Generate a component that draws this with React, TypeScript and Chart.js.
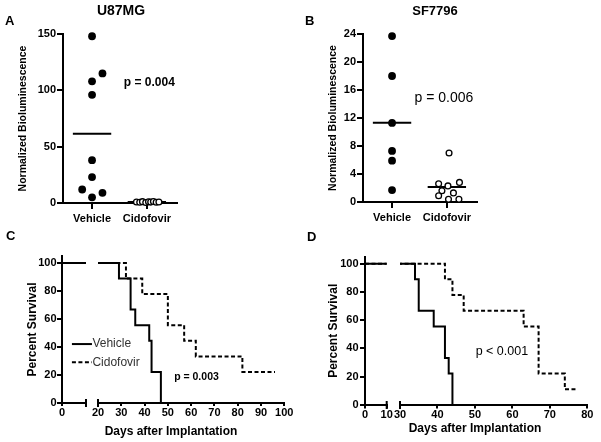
import React, { useEffect, useRef } from "react";
import { Chart, registerables } from "chart.js";
Chart.register(...registerables);

const FONT = "'Liberation Sans', Arial, Helvetica, sans-serif";

// ---------- Panel A (U87MG) ----------
const categories = ["Vehicle", "Cidofovir"];
const categoryPositions = [1, 2];
const u87VehicleValues = [148, 115, 108, 96, 38, 23, 12, 9, 5];
const u87VehicleJitter = [0, 0.19, 0, 0, 0, 0, -0.18, 0.19, 0];
const u87CidoValues = [0.9, 0.6, 1.2, 0.5, 1.0, 0.8, 1.3, 0.7, 0.9];
const u87CidoJitter = [-0.19, -0.13, -0.08, -0.02, 0.03, 0.07, 0.12, 0.17, 0.22];
const u87YTicks = [0, 50, 100, 150];

// ---------- Panel B (SF7796) ----------
const sfVehicleValues = [23.7, 18.0, 11.3, 7.3, 5.9, 1.7];
const sfVehicleJitter = [0, 0, 0, 0, 0, 0];
const sfCidoValues = [7.0, 2.6, 2.3, 2.8, 1.6, 1.3, 0.9, 0.4, 0.4];
const sfCidoJitter = [0.04, -0.15, 0.02, 0.23, -0.09, 0.12, -0.15, 0.03, 0.22];
const sfYTicks = [0, 4, 8, 12, 16, 20, 24];

// ---------- Panel C (survival) ----------
const cVehicleDays = [0, 29, 34, 36, 42, 43, 47];
const cVehicleSurvival = [100, 88.9, 66.7, 55.6, 44.4, 22.2, 0];
const cCidoDays = [0, 32, 39, 50, 57, 62, 82, 96];
const cCidoSurvival = [100, 88.9, 77.8, 55.6, 44.4, 33.3, 22.2, 22.2];
const cLeftXTicks = [0];
const cRightXTicks = [20, 30, 40, 50, 60, 70, 80, 90, 100];

// ---------- Panel D (survival) ----------
const dVehicleDays = [0, 34, 35, 39, 42, 43, 44];
const dVehicleSurvival = [100, 88.9, 66.7, 55.6, 33.3, 22.2, 0];
const dCidoDays = [0, 42, 44, 47, 63, 67, 74, 77];
const dCidoSurvival = [100, 88.9, 77.8, 66.7, 55.6, 22.2, 11.1, 11.1];
const dLeftXTicks = [0, 10];
const dRightXTicks = [30, 40, 50, 60, 70, 80];

const survivalYTicks = [0, 20, 40, 60, 80, 100];
const seriesNames = ["Vehicle", "Cidofovir"];

// ---------- helpers ----------
const mean = (a: number[]) => a.reduce((s, v) => s + v, 0) / a.length;
const jittered = (vals: number[], jit: number[], center: number) =>
  vals.map((v, i) => ({ x: center + jit[i], y: v }));
const xy = (xs: number[], ys: number[]) => xs.map((x, i) => ({ x, y: ys[i] }));
const fixedTicks = (values: number[]) => (scale: any) => {
  scale.ticks = values.map((v) => ({ value: v }));
};

const annotPlugin = {
  id: "annot",
  afterDraw(chart: any, _args: any, opts: any) {
    const items = opts && opts.items;
    if (!items) return;
    const { ctx, scales } = chart;
    const xs = scales.x;
    const ys = scales.y;
    ctx.save();
    for (const it of items) {
      if (it.type === "text") {
        ctx.font = it.font;
        ctx.fillStyle = it.color || "#000";
        ctx.textAlign = it.align || "left";
        ctx.textBaseline = "middle";
        ctx.fillText(it.text, xs.getPixelForValue(it.x), ys.getPixelForValue(it.y));
      } else if (it.type === "line") {
        ctx.beginPath();
        ctx.setLineDash(it.dash || []);
        ctx.lineWidth = it.width || 2;
        ctx.strokeStyle = "#000";
        const y = ys.getPixelForValue(it.y);
        ctx.moveTo(xs.getPixelForValue(it.x1), y);
        ctx.lineTo(xs.getPixelForValue(it.x2), y);
        ctx.stroke();
      }
    }
    ctx.restore();
  },
};

const breakPlugin = {
  id: "axisBreak",
  afterDraw(chart: any, _args: any, opts: any) {
    if (!opts || (!opts.left && !opts.right)) return;
    const { ctx, chartArea } = chart;
    const half = 4;
    ctx.save();
    ctx.strokeStyle = "#000";
    ctx.lineWidth = 2;
    const xs: number[] = [];
    if (opts.left) xs.push(chartArea.left);
    if (opts.right) xs.push(chartArea.right);
    for (const x of xs) {
      ctx.beginPath();
      ctx.moveTo(x, chartArea.bottom - half);
      ctx.lineTo(x, chartArea.bottom + half);
      ctx.stroke();
    }
    ctx.restore();
  },
};

const tickFont = { family: FONT, size: 11, weight: "bold" as const };

function yAxis(p: {
  min: number; max: number; ticks: number[]; width: number; title: string;
  titleSize: number; titlePad: number; tl: number; pad: number;
}) {
  return {
    type: "linear",
    min: p.min,
    max: p.max,
    afterBuildTicks: fixedTicks(p.ticks),
    afterFit: (s: any) => { s.width = p.width; },
    grid: { drawOnChartArea: false, drawTicks: true, tickLength: p.tl, color: "#000", lineWidth: 2 },
    border: { display: true, color: "#000", width: 2 },
    ticks: { font: tickFont, color: "#000", padding: p.pad, autoSkip: false },
    title: {
      display: true, text: p.title, color: "#000",
      font: { family: FONT, size: p.titleSize, weight: "bold" },
      padding: { top: p.titlePad, bottom: 0 },
    },
  };
}

function xAxis(p: {
  min: number; max: number; ticks: number[]; height: number; tl: number; pad: number;
  labels?: (v: number) => string;
}) {
  return {
    type: "linear",
    min: p.min,
    max: p.max,
    afterBuildTicks: fixedTicks(p.ticks),
    afterFit: (s: any) => { s.height = p.height; },
    grid: { drawOnChartArea: false, drawTicks: true, tickLength: p.tl, color: "#000", lineWidth: 2 },
    border: { display: true, color: "#000", width: 2 },
    ticks: {
      font: tickFont, color: "#000", padding: p.pad, autoSkip: false, maxRotation: 0,
      callback: p.labels ? (v: any) => p.labels!(Number(v)) : (v: any) => String(v),
    },
  };
}

function scatterConfig(p: any) {
  const vm = mean(p.vehicle);
  const cm = mean(p.cido);
  return {
    type: "scatter",
    data: {
      datasets: [
        {
          label: categories[0],
          data: jittered(p.vehicle, p.vehicleJit, categoryPositions[0]),
          pointRadius: 3.9, backgroundColor: "#000", borderColor: "#000", pointBorderWidth: 0, clip: false,
        },
        {
          label: categories[1],
          data: jittered(p.cido, p.cidoJit, categoryPositions[1]),
          pointRadius: 2.9, backgroundColor: "#fff", borderColor: "#000", pointBorderWidth: 1.3, clip: false,
        },
        {
          label: "mean " + categories[0],
          data: [{ x: categoryPositions[0] - 0.35, y: vm }, { x: categoryPositions[0] + 0.35, y: vm }],
          showLine: true, borderColor: "#000", borderWidth: 2, pointRadius: 0, clip: false,
        },
        {
          label: "mean " + categories[1],
          data: [{ x: categoryPositions[1] - 0.35, y: cm }, { x: categoryPositions[1] + 0.35, y: cm }],
          showLine: true, borderColor: "#000", borderWidth: 2, pointRadius: 0, clip: false,
        },
      ],
    },
    options: {
      animation: false, responsive: false, devicePixelRatio: 1,
      layout: { padding: p.padding },
      plugins: {
        legend: { display: false }, tooltip: { enabled: false }, title: { display: false },
        annot: { items: p.annot },
      },
      scales: {
        x: xAxis({
          min: 0.47, max: 2.55, ticks: categoryPositions, height: p.xHeight, tl: 6, pad: 3,
          labels: (v) => categories[categoryPositions.indexOf(v)] || "",
        }),
        y: yAxis({
          min: 0, max: p.yMax, ticks: p.yTicks, width: 63, title: "Normalized Bioluminescence",
          titleSize: 10.5, titlePad: p.titlePad, tl: 6, pad: 1,
        }),
      },
    },
    plugins: [annotPlugin, breakPlugin],
  };
}

function survivalConfig(p: any) {
  return {
    type: "line",
    data: {
      datasets: [
        {
          label: seriesNames[0], data: xy(p.vDays, p.vSurv), stepped: "before",
          borderColor: "#000", borderWidth: 2, pointRadius: 0, fill: false,
        },
        {
          label: seriesNames[1], data: xy(p.cDays, p.cSurv), stepped: "before",
          borderColor: "#000", borderWidth: 2, borderDash: [4, 2.5], pointRadius: 0, fill: false,
        },
      ],
    },
    options: {
      animation: false, responsive: false, devicePixelRatio: 1,
      layout: { padding: p.padding },
      plugins: {
        legend: { display: false }, tooltip: { enabled: false },
        annot: { items: p.annot || [] },
        axisBreak: p.breaks,
      },
      scales: {
        x: xAxis({ min: p.xMin, max: p.xMax, ticks: p.xTicks, height: p.xHeight, tl: p.xtl, pad: 0 }),
        y: p.showY
          ? yAxis({
              min: 0, max: 105, ticks: survivalYTicks, width: p.yWidth, title: "Percent Survival",
              titleSize: 12, titlePad: p.titlePad, tl: 5, pad: p.ypad,
            })
          : { type: "linear", min: 0, max: 105, display: false },
      },
    },
    plugins: [annotPlugin, breakPlugin],
  };
}

type Spec = { left: number; top: number; width: number; height: number; build: () => any };

const specs: Spec[] = [
  {
    left: 0, top: 0, width: 300, height: 226,
    build: () => scatterConfig({
      vehicle: u87VehicleValues, vehicleJit: u87VehicleJitter, cido: u87CidoValues, cidoJit: u87CidoJitter,
      yTicks: u87YTicks, yMax: 150, titlePad: 17, xHeight: 23,
      padding: { left: 0, top: 34, right: 123, bottom: 0 },
      annot: [{ type: "text", x: 1.58, y: 106.5, text: "p = 0.004", font: `bold 12px ${FONT}` }],
    }),
  },
  {
    left: 300, top: 0, width: 301, height: 226,
    build: () => scatterConfig({
      vehicle: sfVehicleValues, vehicleJit: sfVehicleJitter, cido: sfCidoValues, cidoJit: sfCidoJitter,
      yTicks: sfYTicks, yMax: 24, titlePad: 27, xHeight: 24,
      padding: { left: 0, top: 34, right: 124, bottom: 0 },
      annot: [{ type: "text", x: 1.41, y: 14.8, text: "p = 0.006", font: `14px ${FONT}` }],
    }),
  },
  {
    left: 0, top: 222, width: 110, height: 220,
    build: () => survivalConfig({
      vDays: cVehicleDays, vSurv: cVehicleSurvival, cDays: cCidoDays, cSurv: cCidoSurvival,
      xMin: 0, xMax: 10, xTicks: cLeftXTicks, xHeight: 39, xtl: 3,
      showY: true, yWidth: 62, titlePad: 25.8, ypad: 0.5,
      padding: { left: 0, top: 34, right: 24, bottom: 0 },
      breaks: { right: true },
    }),
  },
  {
    left: 0, top: 222, width: 300, height: 220,
    build: () => survivalConfig({
      vDays: cVehicleDays, vSurv: cVehicleSurvival, cDays: cCidoDays, cSurv: cCidoSurvival,
      xMin: 20, xMax: 100, xTicks: cRightXTicks, xHeight: 39, xtl: 3,
      showY: false,
      padding: { left: 98, top: 34, right: 15.7, bottom: 0 },
      breaks: { left: true },
      annot: [
        { type: "text", x: 52.7, y: 18.8, text: "p = 0.003", font: `bold 10.5px ${FONT}` },
        { type: "line", x1: 8.8, x2: 17.4, y: 42.1, width: 2 },
        { type: "text", x: 17.6, y: 42.1, text: seriesNames[0], font: `12px ${FONT}`, color: "#333" },
        { type: "line", x1: 8.8, x2: 17.4, y: 29.1, width: 2, dash: [4, 2.5] },
        { type: "text", x: 17.6, y: 29.1, text: seriesNames[1], font: `12px ${FONT}`, color: "#333" },
      ],
    }),
  },
  {
    left: 300, top: 222, width: 110, height: 220,
    build: () => survivalConfig({
      vDays: dVehicleDays, vSurv: dVehicleSurvival, cDays: dCidoDays, cSurv: dCidoSurvival,
      xMin: 0, xMax: 10, xTicks: dLeftXTicks, xHeight: 37, xtl: 3.5,
      showY: true, yWidth: 65, titlePad: 26.1, ypad: 1.5,
      padding: { left: 0, top: 34.6, right: 23.3, bottom: 0 },
      breaks: { right: true },
    }),
  },
  {
    left: 300, top: 222, width: 301, height: 220,
    build: () => survivalConfig({
      vDays: dVehicleDays, vSurv: dVehicleSurvival, cDays: dCidoDays, cSurv: dCidoSurvival,
      xMin: 30, xMax: 80, xTicks: dRightXTicks, xHeight: 37, xtl: 3.5,
      showY: false,
      padding: { left: 100, top: 34.6, right: 13.7, bottom: 0 },
      breaks: { left: true },
      annot: [{ type: "text", x: 50.2, y: 37.7, text: "p < 0.001", font: `12.5px ${FONT}` }],
    }),
  },
];

function ChartCanvas({ spec }: { spec: Spec }) {
  const ref = useRef<HTMLCanvasElement>(null);
  useEffect(() => {
    if (!ref.current) return;
    const chart = new Chart(ref.current, spec.build());
    return () => chart.destroy();
  }, []);
  return (
    <canvas
      ref={ref}
      width={spec.width}
      height={spec.height}
      style={{ position: "absolute", left: spec.left, top: spec.top, width: spec.width, height: spec.height }}
    />
  );
}

function Label(p: { x: number; y: number; text: string; size: number; bold?: boolean; center?: boolean }) {
  return (
    <div
      style={{
        position: "absolute",
        left: p.x,
        top: p.y - p.size / 2,
        lineHeight: `${p.size}px`,
        fontSize: p.size,
        fontWeight: p.bold ? "bold" : "normal",
        fontFamily: FONT,
        color: "#000",
        whiteSpace: "nowrap",
        transform: p.center ? "translateX(-50%)" : undefined,
      }}
    >
      {p.text}
    </div>
  );
}

export default function App() {
  return (
    <div
      style={{
        position: "absolute", left: 0, top: 0, width: 601, height: 442,
        background: "#fff", overflow: "hidden",
      }}
    >
      {specs.map((s, i) => (
        <ChartCanvas key={i} spec={s} />
      ))}
      <Label x={5} y={20} text="A" size={13} bold />
      <Label x={305} y={20} text="B" size={13} bold />
      <Label x={6} y={235} text="C" size={13} bold />
      <Label x={307} y={236} text="D" size={13} bold />
      <Label x={121} y={10} text="U87MG" size={14} bold center />
      <Label x={435} y={10} text="SF7796" size={13} bold center />
      <Label x={171} y={431} text="Days after Implantation" size={12} bold center />
      <Label x={475} y={428} text="Days after Implantation" size={12} bold center />
    </div>
  );
}
